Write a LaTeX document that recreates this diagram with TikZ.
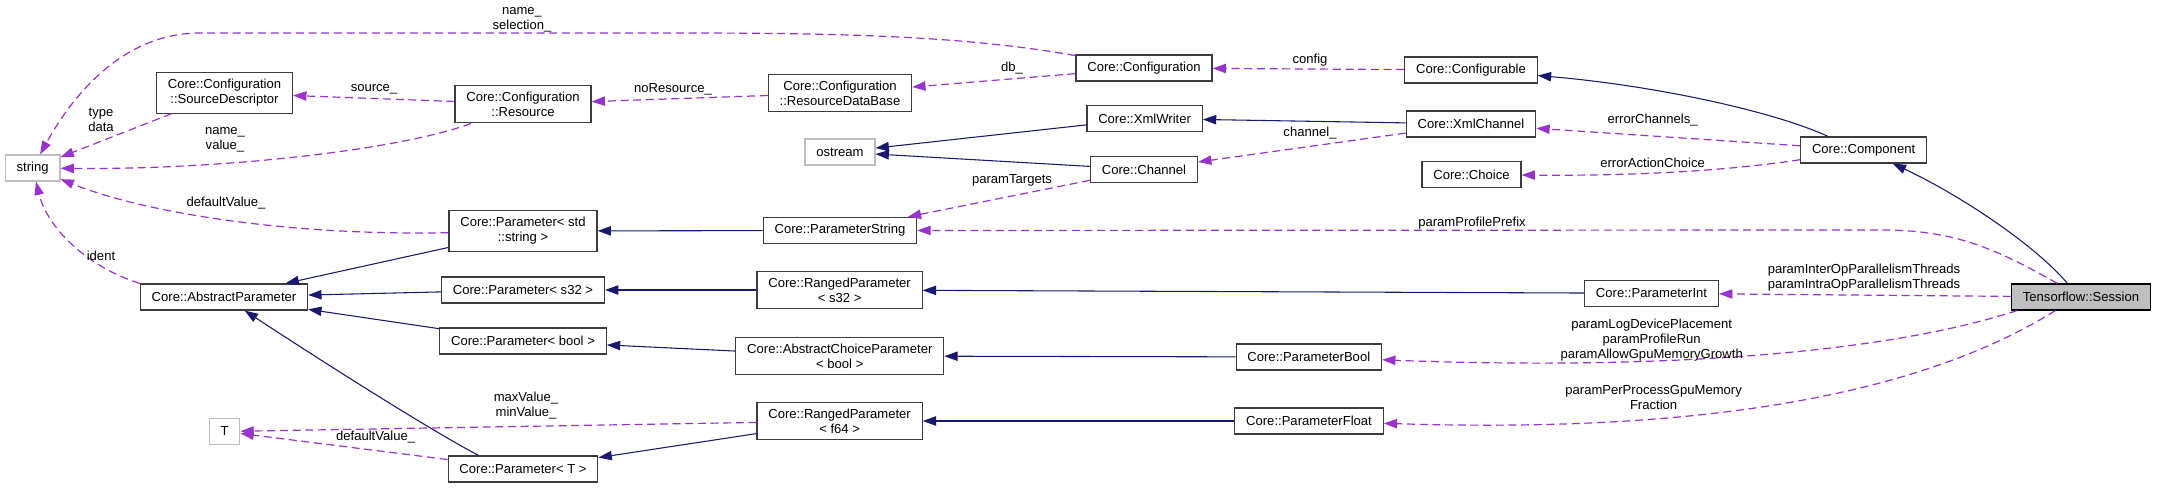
\documentclass[tikz,border=0pt]{standalone}
\usepackage{fontspec}
\setmainfont{Liberation Sans}
\usetikzlibrary{arrows.meta}
\definecolor{bClass}{RGB}{60, 60, 60}
\definecolor{bExt}{RGB}{191, 191, 191}
\definecolor{cSession}{RGB}{191, 191, 191}
\definecolor{eNavy}{RGB}{25, 25, 112}
\definecolor{ePurple}{RGB}{154, 50, 205}

\begin{document}
\begin{tikzpicture}[
    x=0.75pt, y=-0.75pt,
    font=\fontsize{9.8}{11.25}\selectfont,
    cls/.style={
        draw=bClass,
        fill=white,
        line width=0.9pt,
        align=center,
        inner xsep=8.5pt,
        inner ysep=4.9pt,
        minimum height=19.5pt
    },
    ext/.style={cls, draw=bExt},
    lbl/.style={align=center, inner sep=0pt},
    inherit/.style={-{Triangle[length=10pt, width=7pt]}, draw=eNavy, line width=0.8pt},
    usage/.style={-{Triangle[length=10pt, width=7pt]}, draw=ePurple, line width=0.9pt, dash pattern=on 6pt off 3.5pt}
]
\useasboundingbox (0,0) rectangle (2157,488);

\node[ext] (string) at (32.6, 168) {string};
\node[cls] (srcDesc) at (224.5, 93) {Core::Configuration\\::SourceDescriptor};
\node[cls] (resource) at (523, 104) {Core::Configuration\\::Resource};
\node[cls] (configuration) at (1144, 68) {Core::Configuration};
\node[cls] (resDB) at (840, 93) {Core::Configuration\\::ResourceDataBase};
\node[cls] (configurable) at (1471, 70) {Core::Configurable};
\node[cls] (xmlWriter) at (1144.6, 118.5) {Core::XmlWriter};
\node[ext] (ostream) at (840, 152) {ostream};
\node[cls] (xmlChannel) at (1471, 124) {Core::XmlChannel};
\node[cls] (channel) at (1144, 169.5) {Core::Channel};
\node[cls] (choice) at (1471.5, 174.5) {Core::Choice};
\node[cls] (component) at (1863.6, 150) {Core::Component};
\node[cls] (paramString) at (840, 230.5) {Core::ParameterString};
\node[cls] (paramStdString) at (523, 231) {Core::Parameter< std\\::string >};
\node[cls] (absParam) at (224, 297) {Core::AbstractParameter};
\node[cls] (paramS32) at (523, 290) {Core::Parameter< s32 >};
\node[cls] (paramBool) at (523, 341) {Core::Parameter< bool >};
\node[cls] (rangedS32) at (839.6, 290) {Core::RangedParameter\\< s32 >};
\node[cls] (choiceBool) at (839.8, 356) {Core::AbstractChoiceParameter\\< bool >};
\node[cls] (rangedF64) at (839.6, 421) {Core::RangedParameter\\< f64 >};
\node[ext] (tParam) at (224.5, 431.5) {T};
\node[cls] (paramT) at (523, 469) {Core::Parameter< T >};
\node[cls] (paramInt) at (1651.5, 293.3) {Core::ParameterInt};
\node[cls] (parameterBool) at (1308.8, 357) {Core::ParameterBool};
\node[cls] (parameterFloat) at (1309, 421) {Core::ParameterFloat};
\node[cls, fill=cSession, draw=black] (session) at (2081, 297) {Tensorflow::Session};

\draw[usage] (configuration) .. controls (950,33) and (800,33) .. (650,33) -- (200,33) .. controls (120,33) and (70,100) .. (string);
\draw[usage] (srcDesc) -- (string);
\draw[usage] (resource) -- (srcDesc);
\draw[usage] (resource) .. controls (400,150) and (220,170) .. (string);
\draw[usage] (resDB) -- (resource);
\draw[usage] (configuration) -- (resDB);
\draw[usage] (configurable) -- (configuration);
\draw[inherit] (xmlWriter) -- (ostream);
\draw[inherit] (channel) -- (ostream);
\draw[inherit] (xmlChannel) -- (xmlWriter);
\draw[usage] (xmlChannel) -- (channel);
\draw[usage] (channel) -- (paramString);
\draw[inherit] (paramString) -- (paramStdString);
\draw[usage] (paramStdString) .. controls (300,236) and (150,215) .. (string);
\draw[usage] (absParam.north west) .. controls (90,268) and (48,230) .. (string);
\draw[inherit] (paramStdString) -- (absParam);
\draw[inherit] (paramS32) -- (absParam);
\draw[inherit] (paramBool) -- (absParam);
\draw[inherit] (paramT.163) .. controls (430,430) and (320,360) .. (absParam);
\draw[inherit] (rangedS32) -- (paramS32);
\draw[inherit] (choiceBool) -- (paramBool);
\draw[inherit] (rangedF64) -- (paramT);
\draw[usage] (rangedF64) -- (tParam);
\draw[usage] (paramT) -- (tParam);
\draw[inherit] (paramInt) -- (rangedS32);
\draw[inherit] (parameterBool) -- (choiceBool);
\draw[inherit] (parameterFloat) -- (rangedF64);
\draw[inherit] (component.159) .. controls (1770,110) and (1650,85) .. (configurable);
\draw[usage] (component) -- (xmlChannel);
\draw[usage] (component) .. controls (1720,172) and (1620,176) .. (choice);
\draw[inherit] (session.135) .. controls (2035,245) and (1960,195) .. (component);
\draw[usage] (session) .. controls (1990,245) and (1950,230) .. (1880,230) -- (paramString);
\draw[usage] (session) -- (paramInt);
\draw[usage] (session.192) .. controls (1880,355) and (1650,370) .. (parameterBool);
\draw[usage] (session.208) .. controls (1880,420) and (1600,430) .. (parameterFloat);

\node[lbl] (lSelection) at (522, 19.5) {name\_\\selection\_};
\node[lbl] (lTypeData) at (101, 119.5) {type\\data};
\node[lbl] (lSource) at (374, 89) {source\_};
\node[lbl] (lNameValue) at (225, 140) {name\_\\value\_};
\node[lbl] (lDefaultStr) at (226, 203) {defaultValue\_};
\node[lbl] (lNoResource) at (673, 89) {noResource\_};
\node[lbl] (lDb) at (1012, 68) {db\_};
\node[lbl] (lConfig) at (1310, 60) {config};
\node[lbl] (lChannel) at (1310, 133) {channel\_};
\node[lbl] (lTargets) at (1012, 180) {paramTargets};
\node[lbl] (lErrChannels) at (1652.6, 120) {errorChannels\_};
\node[lbl] (lErrAction) at (1652.6, 163) {errorActionChoice};
\node[lbl] (lPrefix) at (1472, 223) {paramProfilePrefix};
\node[lbl] (lIdent) at (101, 256) {ident};
\node[lbl] (lMinMax) at (526, 406) {maxValue\_\\minValue\_};
\node[lbl] (lDefaultT) at (375.6, 436.7) {defaultValue\_};
\node[lbl] (lThreads) at (1864, 277.5) {paramInterOpParallelismThreads\\paramIntraOpParallelismThreads};
\node[lbl] (lBools) at (1651.7, 339.7) {paramLogDevicePlacement\\paramProfileRun\\paramAllowGpuMemoryGrowth};
\node[lbl] (lFraction) at (1653.6, 397.5) {paramPerProcessGpuMemory\\Fraction};

\end{tikzpicture}
\end{document}
